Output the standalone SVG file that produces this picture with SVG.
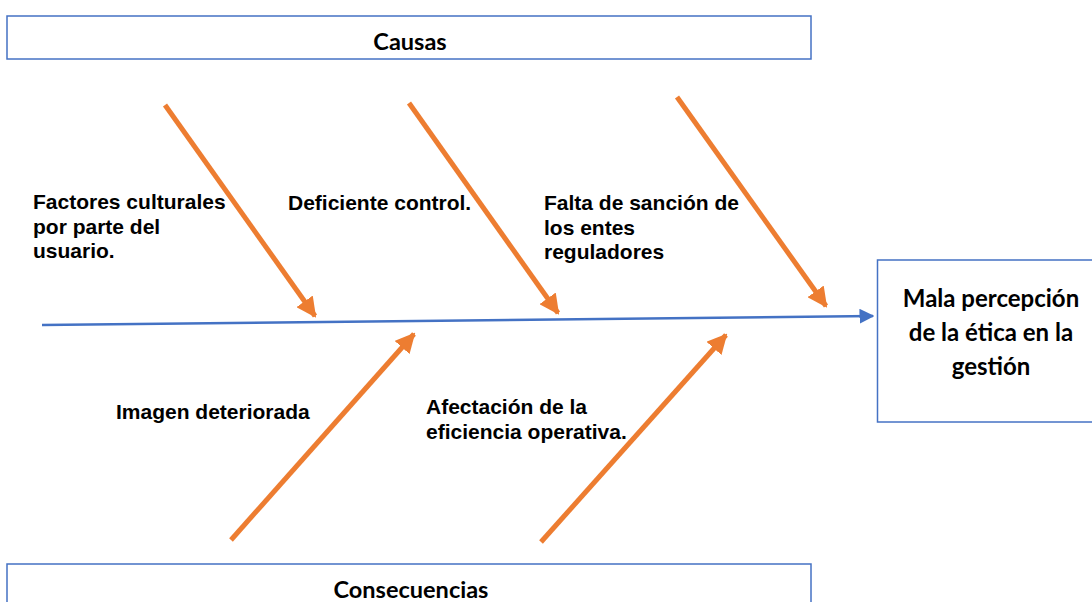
<svg xmlns="http://www.w3.org/2000/svg" width="1092" height="602" viewBox="0 0 1092 602">
<style>
.box{fill:#fff;stroke:#4472C4;stroke-width:1.5}
.hdr{font-family:Lato,"Open Sans",sans-serif;font-weight:bold;font-size:23.5px;fill:#000;text-anchor:middle}
.eff{font-family:Lato,"Open Sans",sans-serif;font-weight:bold;font-size:24px;fill:#000;text-anchor:middle}
.lbl{font-family:"Liberation Sans",Arial,sans-serif;font-weight:bold;font-size:21px;fill:#000}
.bone{stroke:#ED7D31;stroke-width:5;fill:none;marker-end:url(#oa)}
.spine{stroke:#4472C4;stroke-width:2.5;fill:none;marker-end:url(#ba)}
</style>
<defs>
<marker id="oa" viewBox="0 0 10 10" refX="9" refY="5" markerWidth="4" markerHeight="4" orient="auto" markerUnits="strokeWidth">
<path d="M0,0 L10,5 L0,10 z" fill="#ED7D31"/>
</marker>
<marker id="ba" viewBox="0 0 10 10" refX="9" refY="5" markerWidth="6" markerHeight="6" orient="auto" markerUnits="strokeWidth">
<path d="M0,0 L10,5 L0,10 z" fill="#4472C4"/>
</marker>
</defs>
<rect width="1092" height="602" fill="#fff"/>
<g id="causas">
<rect class="box" x="7" y="16" width="804" height="43"/>
<text class="hdr" x="410" y="50">Causas</text>
</g>
<g id="consecuencias">
<rect class="box" x="7" y="564" width="804" height="50"/>
<text class="hdr" x="411" y="598">Consecuencias</text>
</g>
<g id="efecto">
<rect class="box" x="877.5" y="260" width="220" height="162"/>
<text class="eff" x="991" y="307">Mala percepción</text>
<text class="eff" x="991" y="341">de la ética en la</text>
<text class="eff" x="991" y="375">gestión</text>
</g>
<g id="connectors">
<line class="spine" x1="42" y1="325" x2="873" y2="316"/>
<line class="bone" x1="165" y1="105" x2="315" y2="316"/>
<line class="bone" x1="409" y1="103" x2="558" y2="313"/>
<line class="bone" x1="677" y1="97" x2="826" y2="306"/>
<line class="bone" x1="231" y1="540" x2="414" y2="334"/>
<line class="bone" x1="541" y1="542" x2="726" y2="335"/>
</g>
<g id="c1">
<text class="lbl" x="33" y="209">Factores culturales</text>
<text class="lbl" x="33" y="234">por parte del</text>
<text class="lbl" x="33" y="258">usuario.</text>
</g>
<g id="c2">
<text class="lbl" x="288" y="210">Deficiente control.</text>
</g>
<g id="c3">
<text class="lbl" x="544" y="210">Falta de sanción de</text>
<text class="lbl" x="544" y="235">los entes</text>
<text class="lbl" x="544" y="259">reguladores</text>
</g>
<g id="k1">
<text class="lbl" x="116" y="419">Imagen deteriorada</text>
</g>
<g id="k2">
<text class="lbl" x="426" y="414">Afectación de la</text>
<text class="lbl" x="426" y="439">eficiencia operativa.</text>
</g>
</svg>
